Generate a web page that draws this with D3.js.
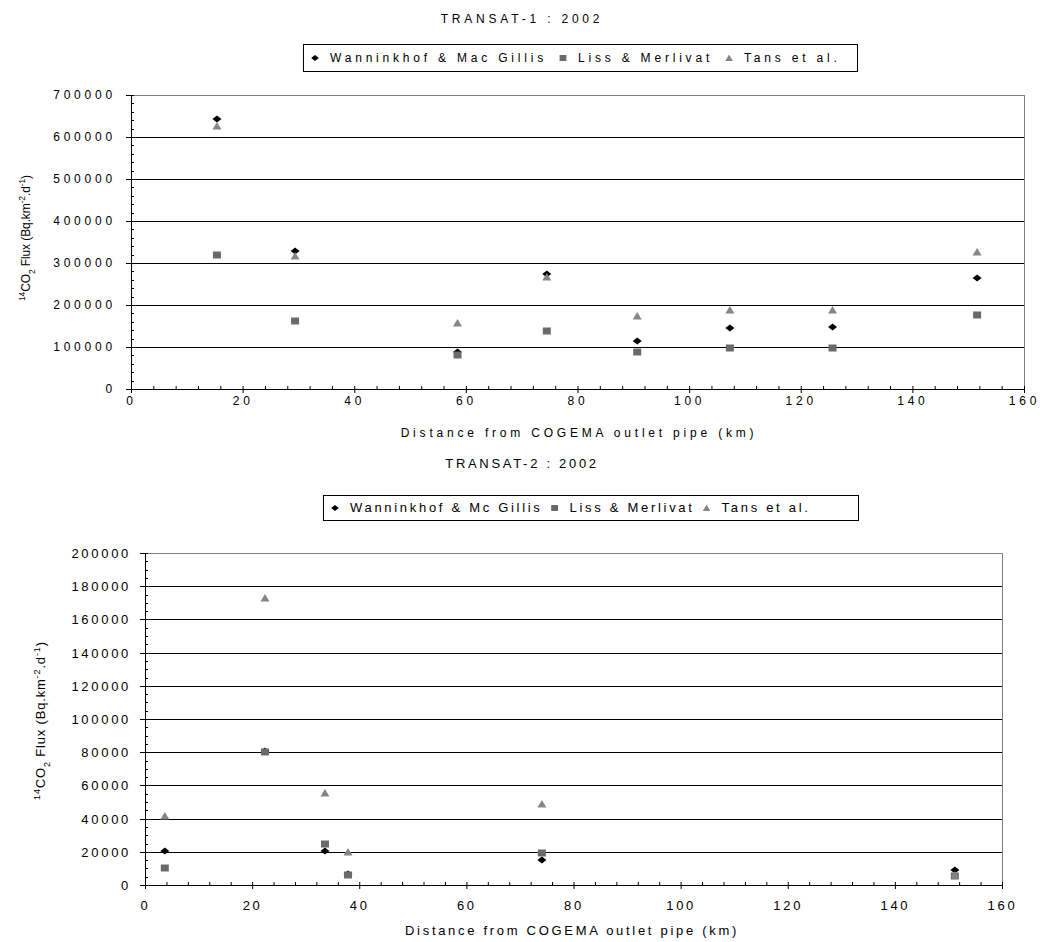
<!DOCTYPE html>
<html>
<head>
<meta charset="utf-8">
<script src="https://cdn.jsdelivr.net/npm/d3@7/dist/d3.min.js"></script>
<style>
  body { margin: 0; background: #fff; }
  svg { display: block; font-family: "Liberation Sans", Arial, sans-serif; }
</style>
</head>
<body>
<script>
// ---- data ----
var xTicks = [0, 20, 40, 60, 80, 100, 120, 140, 160];

// TRANSAT-1 : 2002
var t1Dist = [15.4, 29.4, 58.5, 74.5, 90.7, 107.3, 125.7, 151.6];
var t1Wanninkhof = [643000, 329000, 87000, 274000, 115000, 145000, 148000, 265000];
var t1Liss = [319000, 162000, 80000, 137000, 88000, 97000, 97000, 176000];
var t1Tans = [625000, 316000, 157000, 267000, 174000, 189000, 189000, 327000];
var t1YTicks = [0, 100000, 200000, 300000, 400000, 500000, 600000, 700000];
var t1Labels = ["Wanninkhof & Mac Gillis", "Liss & Merlivat", "Tans et al."];

// TRANSAT-2 : 2002
var t2Dist = [3.7, 22.4, 33.6, 37.9, 74.1, 151.2];
var t2Wanninkhof = [20700, 80700, 20700, 6500, 15300, 8850];
var t2Liss = [10200, 79900, 24700, 6300, 19300, 5400];
var t2Tans = [41600, 172900, 55700, 19900, 49000, 6000];
var t2YTicks = [0, 20000, 40000, 60000, 80000, 100000, 120000, 140000, 160000, 180000, 200000];
var t2Labels = ["Wanninkhof & Mc Gillis", "Liss & Merlivat", "Tans et al."];

var xTitle = "Distance from COGEMA outlet pipe (km)";

// marker shapes (diamond is wider than tall like the original)
var shapes = {
  diamond: "M-4.5,0L0,-3.5L4.5,0L0,3.5Z",
  square: "M-4,-3.5h8v7h-8Z",
  triangle: "M0,-4L4.5,3.5H-4.5Z"
};
var colors = { diamond: "#000", square: "#6a6a6a", triangle: "#858585" };

var svg = d3.select("body").append("svg")
    .attr("width", 1040)
    .attr("height", 942);

function drawChart(c) {
  var x = d3.scaleLinear().domain([0, 160]).range([c.left, c.right]);
  var y = d3.scaleLinear().domain([0, c.yMax]).rangeRound([c.bottom, c.top]);
  var w = c.right - c.left;

  var g = svg.append("g")
      .style("font-size", c.font + "px")
      .style("letter-spacing", c.spacing + "px");

  // title
  g.append("text")
      .attr("x", c.titleX)
      .attr("y", c.titleY)
      .attr("text-anchor", "middle")
      .text(c.title);

  // plot area border (grey top/right)
  g.append("rect")
      .attr("x", c.left + 0.5)
      .attr("y", c.top + 0.5)
      .attr("width", w)
      .attr("height", c.bottom - c.top)
      .attr("fill", "none")
      .attr("stroke", "#808080");

  // gridlines
  g.append("g")
      .attr("transform", "translate(" + c.left + ",0)")
      .call(d3.axisLeft(y)
        .tickValues(c.yTicks.filter(function(v) { return v > 0 && v < c.yMax; }))
        .tickSize(-w).tickFormat(""))
      .call(function(a) { a.select(".domain").remove(); })
      .selectAll("line").attr("stroke", "#000");

  // minor ticks (inside)
  g.append("g")
      .attr("transform", "translate(" + c.left + ",0)")
      .call(d3.axisLeft(y).tickValues(d3.range(0, c.yMax + 1, c.yMinor)).tickSize(-3).tickFormat(""))
      .call(function(a) { a.select(".domain").remove(); });
  g.append("g")
      .attr("transform", "translate(0," + c.bottom + ")")
      .call(d3.axisBottom(x).tickValues(d3.range(0, 161, 4)).tickSize(-3).tickFormat(""))
      .call(function(a) { a.select(".domain").remove(); });

  // y axis
  var ya = g.append("g")
      .attr("transform", "translate(" + c.left + ",0)")
      .call(d3.axisLeft(y).tickValues(c.yTicks).tickSize(5).tickSizeOuter(0).tickPadding(c.yPad).tickFormat(d3.format("d")));
  ya.selectAll("text").attr("fill", "#000").style("font-family", null);
  ya.attr("font-size", null).attr("font-family", null);

  // x axis
  var xa = g.append("g")
      .attr("transform", "translate(0," + c.bottom + ")")
      .call(d3.axisBottom(x).tickValues(xTicks).tickSize(4).tickSizeOuter(0).tickPadding(c.xPad));
  xa.attr("font-size", null).attr("font-family", null);
  xa.selectAll("text").attr("fill", "#000");

  // x title
  g.append("text")
      .attr("x", c.xTitleX)
      .attr("y", c.xTitleY)
      .attr("text-anchor", "middle")
      .text(xTitle);

  // y title
  var yt = g.append("text")
      .attr("transform", "translate(" + c.yTitleX + "," + c.yTitleY + ") rotate(-90)")
      .attr("text-anchor", "middle")
      .attr("textLength", c.yTitleLen)
      .attr("lengthAdjust", "spacing")
      .style("letter-spacing", "0px");
  yt.append("tspan").attr("baseline-shift", "super").style("font-size", "70%").text("14");
  yt.append("tspan").text("CO");
  yt.append("tspan").attr("baseline-shift", "sub").style("font-size", "70%").text("2");
  yt.append("tspan").text(" Flux (Bq.km");
  yt.append("tspan").attr("baseline-shift", "super").style("font-size", "70%").text("-2");
  yt.append("tspan").text(".d");
  yt.append("tspan").attr("baseline-shift", "super").style("font-size", "70%").text("-1");
  yt.append("tspan").text(")");

  // series
  c.series.forEach(function(s) {
    g.append("g").selectAll("path")
        .data(s.values)
      .enter().append("path")
        .attr("d", shapes[s.shape])
        .attr("fill", colors[s.shape])
        .attr("transform", function(d, i) {
          return "translate(" + x(c.dist[i]) + "," + y(d) + ")";
        });
  });

  // legend
  var L = c.legend;
  var lg = g.append("g");
  lg.append("rect")
      .attr("x", L.x0 + 0.5).attr("y", L.y0 + 0.5)
      .attr("width", L.x1 - L.x0).attr("height", L.y1 - L.y0)
      .attr("fill", "#fff").attr("stroke", "#000");
  var mid = (L.y0 + L.y1) / 2;
  var cx = L.sym0;
  c.series.forEach(function(s) {
    lg.append("path")
        .attr("d", shapes[s.shape])
        .attr("fill", colors[s.shape])
        .attr("transform", "translate(" + cx + "," + (mid + 0.5) + ") scale(0.85)");
    var t = lg.append("text")
        .attr("x", cx + 15)
        .attr("y", mid + c.font * 0.36)
        .text(s.label);
    cx = cx + 15 + t.node().getComputedTextLength() + L.gap;
  });
}

drawChart({
  title: "TRANSAT-1 : 2002", titleX: 522, titleY: 23,
  font: 12, spacing: 3.8,
  left: 131, right: 1024, top: 95, bottom: 389,
  yMax: 700000, yTicks: t1YTicks, yMinor: 20000, yPad: 10, xPad: 3,
  xTitleX: 579, xTitleY: 437,
  yTitleX: 30, yTitleY: 238, yTitleLen: 126,
  dist: t1Dist,
  series: [
    { label: t1Labels[0], values: t1Wanninkhof, shape: "diamond" },
    { label: t1Labels[1], values: t1Liss, shape: "square" },
    { label: t1Labels[2], values: t1Tans, shape: "triangle" }
  ],
  legend: { x0: 303, y0: 44, x1: 857, y1: 71, sym0: 315, gap: 16 }
});

drawChart({
  title: "TRANSAT-2 : 2002", titleX: 522, titleY: 468,
  font: 13, spacing: 2.7,
  left: 145, right: 1002, top: 553, bottom: 885,
  yMax: 200000, yTicks: t2YTicks, yMinor: 5000, yPad: 9, xPad: 12,
  xTitleX: 572, xTitleY: 935,
  yTitleX: 45, yTitleY: 721, yTitleLen: 158,
  dist: t2Dist,
  series: [
    { label: t2Labels[0], values: t2Wanninkhof, shape: "diamond" },
    { label: t2Labels[1], values: t2Liss, shape: "square" },
    { label: t2Labels[2], values: t2Tans, shape: "triangle" }
  ],
  legend: { x0: 323, y0: 495, x1: 858, y1: 520, sym0: 335, gap: 12 }
});
</script>
</body>
</html>
